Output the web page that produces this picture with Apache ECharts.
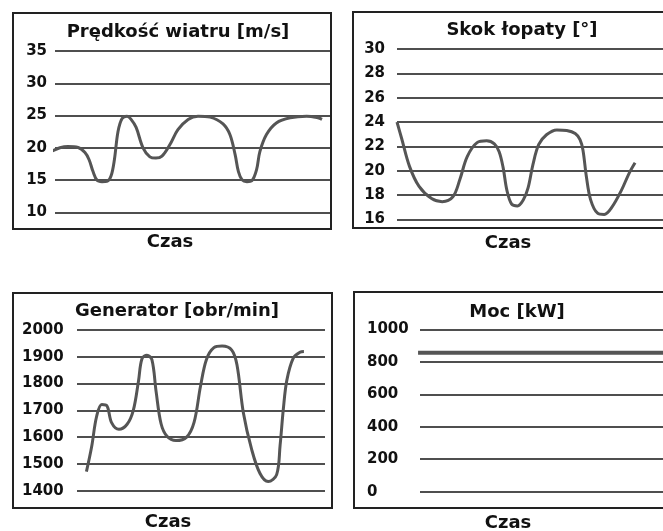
<!DOCTYPE html>
<html><head><meta charset="utf-8">
<script src="https://cdn.jsdelivr.net/npm/echarts@6/dist/echarts.min.js"></script>
<style>html,body{margin:0;padding:0;background:#fff}#c{width:663px;height:531px}</style>
</head><body><div id="c"></div>
<script>
// Panel 1: wind speed [m/s]
const windT = [-1.3,1.8,4.7,8.4,10.9,12.4,13.8,15.3,17.1,18.9,20.4,21.6,22.9,24.4,26.2,27.6,29.5,32.0,34.5,36.7,38.9,41.8,44.7,48.4,52.0,56.4,61.1,63.6,65.5,66.7,68.0,69.8,71.6,73.3,74.5,76.9,80.5,85.5,91.5,95.6,97.1];
const windV = [19.45,20.0,20.2,20.05,19.25,18.15,16.35,14.95,14.75,14.8,15.65,18.15,22.5,24.55,24.9,24.45,23.15,20.0,18.6,18.4,18.7,20.5,22.8,24.4,24.9,24.75,23.7,22.05,18.95,16.3,15.05,14.75,14.9,16.6,19.4,22.05,23.85,24.65,24.9,24.65,24.4];
const windTicks = [10,15,20,25,30,35];
// Panel 2: blade pitch [deg]
const pitchT = [0,1.8,4.7,8.3,13.0,17.0,21.0,23.6,26.4,30.1,33.7,36.6,38.4,39.9,41.3,43.1,45.3,47.5,49.3,51.1,53.3,56.2,60.1,63.8,67.0,68.8,69.9,71.2,72.8,75.4,77.9,80.8,84.4,87.3,89.5];
const pitchV = [24.0,22.6,20.35,18.7,17.7,17.45,17.85,19.25,21.15,22.3,22.45,22.2,21.55,20.25,18.4,17.25,17.1,17.6,18.6,20.5,22.15,22.95,23.35,23.3,23.05,22.55,21.7,19.5,17.6,16.5,16.4,17.0,18.4,19.8,20.65];
const pitchTicks = [16,18,20,22,24,26,28,30];
// Panel 3: generator [rpm]
const genT = [3.8,5.9,7.9,10.0,12.0,14.0,16.9,20.2,22.7,24.8,26.2,28.2,30.2,31.9,33.9,36.3,39.9,44.2,47.2,49.8,52.2,55.2,58.5,62.4,64.5,67.1,70.4,73.8,77.1,80.5,81.9,83.2,84.6,87.2,89.9,91.5];
const genV = [1471,1564,1677,1722,1718,1653,1629,1648,1700,1810,1893,1906,1889,1770,1650,1603,1587,1600,1655,1790,1890,1934,1940,1925,1870,1690,1555,1464,1434,1460,1570,1705,1812,1895,1917,1920];
const genTicks = [1400,1500,1600,1700,1800,1900,2000];
// Panel 4: power [kW]
const powT = [-0.8, 100];
const powV = [855, 855];
const powTicks = [0,200,400,600,800,1000];

const titles = ['Prędkość wiatru [m/s]','Skok łopaty [°]','Generator [obr/min]','Moc [kW]'];
const xLabel = 'Czas';

const zip = (a,b) => a.map((t,i)=>[t,b[i]]);
const FONT = '"DejaVu Sans", sans-serif';
const grids = [
  {left:55, top:51, width:275, height:161.3},
  {left:397, top:49, width:276, height:170.3},
  {left:77, top:330, width:248, height:160.7},
  {left:420, top:329.3, width:260, height:162.4}
];
const yDefs = [
  {ticks:windTicks, align:'right', margin:8},
  {ticks:pitchTicks, align:'right', margin:12},
  {ticks:genTicks, align:'left', margin:55},
  {ticks:powTicks, align:'left', margin:53}
];
const series = [zip(windT,windV), zip(pitchT,pitchV), zip(genT,genV), zip(powT,powV)];

const chart = echarts.init(document.getElementById('c'));
chart.setOption({
  animation:false,
  backgroundColor:'#fff',
  grid: grids.map(g=>Object.assign({containLabel:false}, g)),
  xAxis: grids.map((g,i)=>({type:'value', gridIndex:i, min:0, max:100, show:false})),
  yAxis: yDefs.map((d,i)=>({
    type:'value', gridIndex:i,
    min:d.ticks[0], max:d.ticks[d.ticks.length-1],
    interval:d.ticks[1]-d.ticks[0],
    axisLine:{show:false}, axisTick:{show:false},
    splitLine:{show:true, lineStyle:{color:'#151515', width:1.5}},
    axisLabel:{color:'#111', fontFamily:FONT, fontWeight:'bold', fontSize:15, align:d.align, margin:d.margin,
      formatter: v => String(v)}
  })),
  series: series.map((s,i)=>({
    type:'line', xAxisIndex:i, yAxisIndex:i, data:s,
    smooth: i===3 ? false : 0.35, symbol:'none', clip:false,
    lineStyle:{color:'#555', width: i===3 ? 4 : 3}
  })),
  graphic: [
    {type:'rect', shape:{x:13,y:13,width:318,height:216}, style:{fill:'none', stroke:'#222', lineWidth:2}, z:10},
    {type:'rect', shape:{x:353,y:12,width:320,height:216}, style:{fill:'none', stroke:'#222', lineWidth:2}, z:10},
    {type:'rect', shape:{x:13,y:293,width:319,height:215}, style:{fill:'none', stroke:'#222', lineWidth:2}, z:10},
    {type:'rect', shape:{x:354,y:292,width:320,height:216}, style:{fill:'none', stroke:'#222', lineWidth:2}, z:10},
    ...[[178,32],[522,30],[177,311],[517,312]].map((p,i)=>({type:'text', x:p[0], y:p[1],
      style:{text:titles[i], fill:'#111', font:'bold 18px '+FONT, textAlign:'center', textVerticalAlign:'middle'}})),
    ...[[170,242],[508,243],[168,522],[508,523]].map(p=>({type:'text', x:p[0], y:p[1],
      style:{text:xLabel, fill:'#111', font:'bold 18px '+FONT, textAlign:'center', textVerticalAlign:'middle'}}))
  ]
});
</script></body></html>
